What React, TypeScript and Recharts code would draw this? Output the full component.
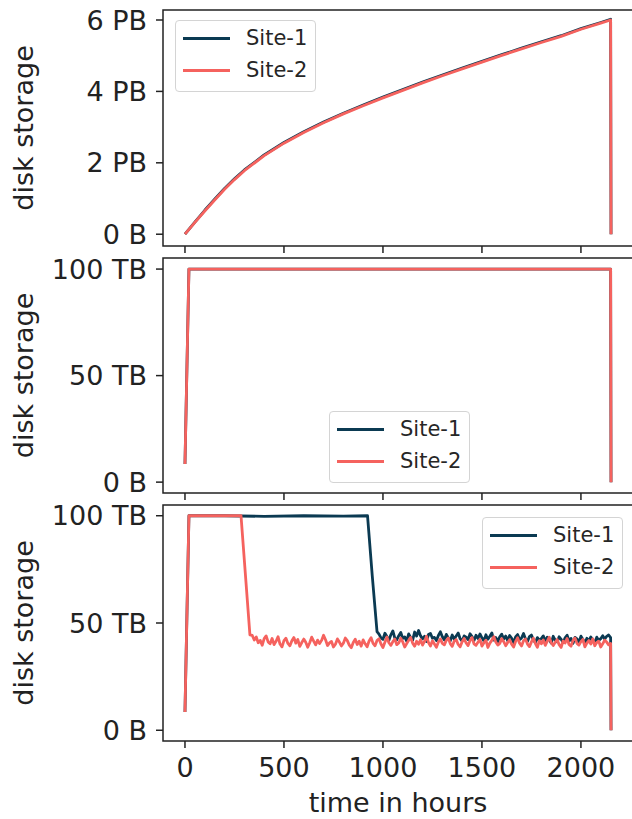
import React from 'react';
import { LineChart, Line, XAxis, YAxis, ReferenceArea, Legend } from 'recharts';

const SITE1_COLOR = '#0b3a52';
const SITE2_COLOR = '#f5625e';
const FONT = 'DejaVu Sans, Verdana, sans-serif';
const AXIS_COLOR = '#222222';

const xTicks = [0, 500, 1000, 1500, 2000];
const xDomain: [number, number] = [-111, 2263];

// Panel 1 (PB)
const hours1 = [0, 50, 100, 150, 200, 250, 300, 400, 500, 600, 700, 800, 900, 1000, 1100, 1200, 1300, 1400, 1500, 1600, 1700, 1800, 1900, 2000, 2100, 2150, 2152];
const p1Site1 = [0, 0.34, 0.67, 0.98, 1.28, 1.55, 1.8, 2.22, 2.57, 2.87, 3.14, 3.39, 3.62, 3.84, 4.05, 4.26, 4.46, 4.65, 4.84, 5.03, 5.21, 5.39, 5.56, 5.76, 5.93, 6.02, 0];
const p1Site2 = [0, 0.33, 0.65, 0.96, 1.26, 1.53, 1.78, 2.2, 2.55, 2.85, 3.12, 3.37, 3.6, 3.82, 4.03, 4.24, 4.44, 4.63, 4.82, 5.01, 5.19, 5.37, 5.54, 5.74, 5.91, 6.0, 0];
const p1Ticks = [0, 2, 4, 6];
const p1TickLabels = ['0 B', '2 PB', '4 PB', '6 PB'];
const p1Domain: [number, number] = [-0.33, 6.28];

// Panel 2 (TB)
const hours2 = [0, 20, 2150, 2152];
const p2Site1 = [8.5, 100, 100, 0];
const p2Site2 = [8.5, 100, 100, 0];

const tbTicks = [0, 50, 100];
const tbTickLabels = ['0 B', '50 TB', '100 TB'];
const tbDomain: [number, number] = [-5.1, 105.2];

// Panel 3 (TB)
const noiseHours = [
  340, 350, 360, 370, 380, 390, 400, 410, 420, 430,
  440, 450, 460, 470, 480, 490, 500, 510, 520, 530,
  540, 550, 560, 570, 580, 590, 600, 610, 620, 630,
  640, 650, 660, 670, 680, 690, 700, 710, 720, 730,
  740, 750, 760, 770, 780, 790, 800, 810, 820, 830,
  840, 850, 860, 870, 880, 890, 900, 910, 920, 930,
  940, 950, 960, 970, 980, 990, 1000, 1010, 1020, 1030,
  1040, 1050, 1060, 1070, 1080, 1090, 1100, 1110, 1120, 1130,
  1140, 1150, 1160, 1170, 1180, 1190, 1200, 1210, 1220, 1230,
  1240, 1250, 1260, 1270, 1280, 1290, 1300, 1310, 1320, 1330,
  1340, 1350, 1360, 1370, 1380, 1390, 1400, 1410, 1420, 1430,
  1440, 1450, 1460, 1470, 1480, 1490, 1500, 1510, 1520, 1530,
  1540, 1550, 1560, 1570, 1580, 1590, 1600, 1610, 1620, 1630,
  1640, 1650, 1660, 1670, 1680, 1690, 1700, 1710, 1720, 1730,
  1740, 1750, 1760, 1770, 1780, 1790, 1800, 1810, 1820, 1830,
  1840, 1850, 1860, 1870, 1880, 1890, 1900, 1910, 1920, 1930,
  1940, 1950, 1960, 1970, 1980, 1990, 2000, 2010, 2020, 2030,
  2040, 2050, 2060, 2070, 2080, 2090, 2100, 2110, 2120, 2130,
  2140,
];
const SITE1_NOISE_START = 64; // noiseHours index of 980 h

const p3Site1HeadHours = [0, 20, 200, 400, 600, 800, 922, 946, 970];
const p3Site1Head = [8.5, 100, 100, 99.7, 100, 99.8, 100, 72, 46];
const p3Site1Noise = [
  44.8, 43.1, 42.4, 45.2, 43.7, 41.9, 44.5, 46.3, 43.0, 42.2,
  44.1, 45.6, 42.8, 43.5, 41.6, 44.9, 43.2, 42.0, 45.8, 43.9,
  46.5, 44.0, 42.6, 43.8, 41.4, 44.6, 45.1, 42.9, 43.3, 41.8,
  44.2, 45.9, 43.6, 42.1, 44.7, 43.0, 41.7, 44.4, 42.5, 43.9,
  45.3, 42.7, 41.5, 44.0, 43.4, 42.2, 45.0, 43.7, 41.9, 44.3,
  42.8, 44.9, 43.1, 41.6, 44.5, 42.4, 43.8, 45.4, 42.0, 43.2,
  41.3, 43.6, 44.8, 42.5, 43.9, 41.8, 44.2, 42.9, 40.9, 43.5,
  44.6, 42.3, 43.0, 45.1, 42.6, 41.4, 43.7, 44.4, 42.1, 40.8,
  43.2, 41.9, 42.7, 44.0, 41.5, 43.4, 42.2, 40.6, 43.8, 42.0,
  41.2, 43.6, 42.4, 40.9, 43.1, 44.3, 41.7, 42.8, 40.5, 43.3,
  42.6, 41.0, 43.9, 42.3, 40.7, 42.9, 41.6, 43.5, 42.1, 40.8,
  43.4, 41.9, 42.7, 44.1, 42.5, 43.8, 44.4,
];
const p3Site1TailHours = [2150, 2152];
const p3Site1Tail = [43.2, 0];

const p3Site2HeadHours = [0, 20, 283, 328];
const p3Site2Head = [8.5, 100, 100, 44.5];
const p3Site2Noise = [
  44.2, 42.1, 43.5, 40.8, 41.9, 39.6, 42.7, 44.0, 41.2, 40.3,
  42.8, 39.9, 41.5, 43.6, 40.2, 38.9, 41.8, 42.9, 40.5, 39.4,
  41.7, 43.2, 40.6, 42.3, 39.1, 40.9, 42.5, 41.0, 38.7, 40.8,
  43.4, 41.6, 39.8, 42.0, 40.4, 41.9, 44.3, 42.2, 39.5, 40.7,
  41.4, 38.8, 40.1, 42.6, 41.1, 39.3, 40.6, 43.0, 41.8, 39.7,
  38.5, 40.9, 42.4, 40.0, 41.5, 39.2, 42.1, 40.3, 38.9, 41.6,
  43.1, 40.5, 39.4, 41.8, 42.7, 40.2, 38.6, 41.0, 43.5, 40.8,
  39.6, 41.3, 42.5, 39.9, 40.7, 42.9, 41.2, 38.8, 40.4, 41.9,
  43.3, 40.6, 39.2, 41.5, 40.1, 42.2, 39.7, 41.4, 43.8, 40.9,
  39.3, 41.7, 40.2, 38.7, 41.1, 42.6, 40.5, 39.8, 41.9, 43.0,
  40.4, 39.1, 41.6, 42.3, 40.0, 38.9, 41.3, 42.8, 40.7, 39.5,
  41.8, 43.2, 40.3, 39.6, 41.0, 42.4, 39.2, 40.8, 42.0, 38.6,
  40.6, 41.9, 43.6, 41.1, 39.7, 40.5, 42.7, 41.3, 39.4, 40.9,
  42.2, 40.1, 38.8, 41.4, 43.1, 40.6, 39.3, 41.7, 42.5, 40.2,
  39.0, 41.2, 42.9, 40.4, 38.7, 41.8, 40.3, 42.1, 39.6, 41.5,
  43.4, 40.8, 39.5, 41.0, 42.3, 39.9, 38.6, 41.6, 40.7, 42.8,
  40.0, 39.2, 41.9, 43.0, 40.5, 39.7, 41.3, 42.4, 38.9, 40.6,
  41.8, 40.2, 42.6, 39.4, 40.9, 41.5, 38.8, 40.3, 42.0, 41.1,
  39.8,
];
const p3Site2TailHours = [2150, 2152];
const p3Site2Tail = [40.5, 0];

const toRows = (hs: number[], vs: number[]) => hs.map((h, i) => ({ h, v: vs[i] }));

const rows1Site1 = toRows(hours1, p1Site1);
const rows1Site2 = toRows(hours1, p1Site2);
const rows2Site1 = toRows(hours2, p2Site1);
const rows2Site2 = toRows(hours2, p2Site2);
const rows3Site1 = [
  ...toRows(p3Site1HeadHours, p3Site1Head),
  ...toRows(noiseHours.slice(SITE1_NOISE_START), p3Site1Noise),
  ...toRows(p3Site1TailHours, p3Site1Tail),
];
const rows3Site2 = [
  ...toRows(p3Site2HeadHours, p3Site2Head),
  ...toRows(noiseHours, p3Site2Noise),
  ...toRows(p3Site2TailHours, p3Site2Tail),
];

const tickStyle = { fontSize: 27, fill: AXIS_COLOR, fontFamily: FONT };
const tickLineStyle = { stroke: AXIS_COLOR, strokeWidth: 1.5 };

const LegendBox = (props: any) => {
  const payload = props.payload || [];
  return (
    <div
      style={{
        width: 141,
        height: 72,
        boxSizing: 'border-box',
        border: '1px solid #d4d4d4',
        borderRadius: 4,
        background: 'rgba(255,255,255,0.85)',
        paddingTop: 1,
        paddingLeft: 7,
        fontFamily: FONT,
      }}
    >
      {payload.map((p: any) => (
        <div key={p.value} style={{ display: 'flex', alignItems: 'center', height: 32 }}>
          <div style={{ width: 47, height: 3, background: p.color, marginRight: 16 }} />
          <span style={{ fontSize: 21, color: '#262626', lineHeight: '32px' }}>{p.value}</span>
        </div>
      ))}
    </div>
  );
};

const makeYLabel = (fallbackCenter: number) => (props: any) => {
  const vb = props && props.viewBox;
  const cy = vb && typeof vb.y === 'number' ? vb.y + vb.height / 2 : fallbackCenter;
  const x = 33;
  return (
    <text
      x={x}
      y={cy}
      transform={`rotate(-90, ${x}, ${cy})`}
      textAnchor="middle"
      fontSize={27}
      fontFamily={FONT}
      fill={AXIS_COLOR}
    >
      disk storage
    </text>
  );
};

const XLabel = (props: any) => {
  const vb = props && props.viewBox;
  const cx = vb && typeof vb.x === 'number' ? vb.x + vb.width / 2 : 398;
  const y = vb && typeof vb.y === 'number' ? vb.y + 71 : 812;
  return (
    <text x={cx} y={y} textAnchor="middle" fontSize={27} fontFamily={FONT} fill={AXIS_COLOR}>
      time in hours
    </text>
  );
};

type PanelProps = {
  site1: any[];
  site2: any[];
  top: number;
  height: number;
  marginTop: number;
  xAxisHeight: number;
  showXLabels: boolean;
  yDomain: [number, number];
  yTicks: number[];
  yTickLabels: string[];
  legendLeft: number;
  legendTop: number;
  labelCenter: number;
  lineWidth: number;
};

const Panel = (p: PanelProps) => {
  const fmtY = (v: number) => {
    const i = p.yTicks.indexOf(v);
    return i >= 0 ? p.yTickLabels[i] : '';
  };
  return (
    <div style={{ position: 'absolute', left: 0, top: p.top }}>
      <LineChart width={640} height={p.height} margin={{ top: p.marginTop, right: 7, bottom: 0, left: 0 }}>
        <XAxis
          dataKey="h"
          type="number"
          domain={xDomain}
          ticks={xTicks}
          allowDataOverflow
          interval={0}
          height={p.xAxisHeight}
          axisLine={false}
          tickSize={7}
          tickMargin={10}
          tickLine={tickLineStyle}
          tick={tickStyle}
          tickFormatter={p.showXLabels ? (v: number) => String(v) : () => ''}
          label={p.showXLabels ? { content: XLabel } : undefined}
        />
        <YAxis
          type="number"
          domain={p.yDomain}
          ticks={p.yTicks}
          allowDataOverflow
          interval={0}
          width={163}
          axisLine={false}
          tickSize={7}
          tickMargin={9}
          tickLine={tickLineStyle}
          tick={tickStyle}
          tickFormatter={fmtY}
          label={{ content: makeYLabel(p.labelCenter) }}
        />
        <ReferenceArea
          x1={xDomain[0]}
          x2={xDomain[1]}
          y1={p.yDomain[0]}
          y2={p.yDomain[1]}
          fill="none"
          fillOpacity={0}
          stroke={AXIS_COLOR}
          strokeWidth={1.5}
          ifOverflow="visible"
        />
        <Line
          data={p.site1}
          type="linear"
          dataKey="v"
          name="Site-1"
          stroke={SITE1_COLOR}
          strokeWidth={p.lineWidth}
          strokeLinejoin="round"
          dot={false}
          activeDot={false}
          isAnimationActive={false}
        />
        <Line
          data={p.site2}
          type="linear"
          dataKey="v"
          name="Site-2"
          stroke={SITE2_COLOR}
          strokeWidth={p.lineWidth}
          strokeLinejoin="round"
          dot={false}
          activeDot={false}
          isAnimationActive={false}
        />
        <Legend
          layout="vertical"
          align="center"
          verticalAlign="middle"
          content={LegendBox}
          wrapperStyle={{ left: p.legendLeft, top: p.legendTop, width: 141, height: 72 }}
        />
      </LineChart>
    </div>
  );
};

export default function App() {
  return (
    <div
      style={{
        position: 'absolute',
        left: 0,
        top: 0,
        width: 632,
        height: 819,
        overflow: 'hidden',
        background: '#ffffff',
      }}
    >
      <Panel
        site1={rows1Site1}
        site2={rows1Site2}
        top={0}
        height={254}
        marginTop={10}
        xAxisHeight={8}
        showXLabels={false}
        yDomain={p1Domain}
        yTicks={p1Ticks}
        yTickLabels={p1TickLabels}
        legendLeft={175}
        legendTop={20}
        labelCenter={128}
        lineWidth={2.8}
      />
      <Panel
        site1={rows2Site1}
        site2={rows2Site2}
        top={254}
        height={247}
        marginTop={4}
        xAxisHeight={8}
        showXLabels={false}
        yDomain={tbDomain}
        yTicks={tbTicks}
        yTickLabels={tbTickLabels}
        legendLeft={329}
        legendTop={157}
        labelCenter={121}
        lineWidth={2.8}
      />
      <Panel
        site1={rows3Site1}
        site2={rows3Site2}
        top={501}
        height={318}
        marginTop={4}
        xAxisHeight={78}
        showXLabels={true}
        yDomain={[-5, 105]}
        yTicks={tbTicks}
        yTickLabels={tbTickLabels}
        legendLeft={482}
        legendTop={16}
        labelCenter={122}
        lineWidth={2.8}
      />
    </div>
  );
}
